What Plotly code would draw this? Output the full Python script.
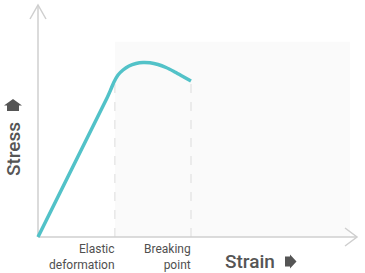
import plotly.graph_objects as go

# ---- data ----
strain = [0.0, 2.163, 2.288, 2.382, 2.508, 2.665, 2.853, 3.072, 3.292, 3.511, 3.762, 4.013, 4.263, 4.514, 4.796]
stress = [0.0, 5.991, 6.379, 6.681, 6.983, 7.198, 7.371, 7.478, 7.522, 7.509, 7.435, 7.306, 7.134, 6.940, 6.724]
elastic_x = 2.41
elastic_y = 6.78
breaking_x = 4.796
breaking_y = 6.724
region_right = 9.78
region_top = 8.42
marker_labels = ["Elastic<br>deformation", "Breaking<br>point"]
axis_titles = ["Strain", "Stress"]

W, H = 365, 273
X0, Y0 = 38, 237       # pixel of origin
SX, SY = 31.9, 23.2    # pixels per unit
xr = [-X0 / SX, (W - X0) / SX]
yr = [-(H - Y0) / SY, Y0 / SY]

def P(px, py):
    return (px - X0) / SX, (Y0 - py) / SY

def path(pts):
    s = ""
    for i, (px, py) in enumerate(pts):
        x, y = P(px, py)
        s += ("M" if i == 0 else "L") + f"{x:.4f},{y:.4f} "
    return s + "Z"

def openpath(pts):
    s = ""
    for i, (px, py) in enumerate(pts):
        x, y = P(px, py)
        s += ("M" if i == 0 else "L") + f"{x:.4f},{y:.4f} "
    return s

fig = go.Figure()
fig.add_trace(go.Scatter(x=strain, y=stress, mode="lines",
                         line=dict(color="#52c2c8", width=3.5, shape="spline", smoothing=0.6),
                         hoverinfo="skip"))

axc = "#cfcfcf"
top_y = P(0, 5)[1]
right_x = P(357, 0)[0]
shapes = [
    dict(type="rect", x0=elastic_x, x1=region_right, y0=0, y1=region_top,
         fillcolor="#fafafa", line=dict(width=0), layer="below"),
    dict(type="line", x0=elastic_x, x1=elastic_x, y0=0, y1=elastic_y,
         line=dict(color="#dcdcdc", width=1, dash="dash"), layer="below"),
    dict(type="line", x0=breaking_x, x1=breaking_x, y0=0, y1=breaking_y,
         line=dict(color="#dcdcdc", width=1, dash="dash"), layer="below"),
    dict(type="line", x0=0, x1=0, y0=0, y1=top_y, line=dict(color=axc, width=1.5), layer="below"),
    dict(type="line", x0=0, x1=right_x, y0=0, y1=0, line=dict(color=axc, width=1.5), layer="below"),
    dict(type="path", path=openpath([(30, 19), (38, 5), (46, 19)]), line=dict(color=axc, width=1.5)),
    dict(type="path", path=openpath([(345, 228), (357, 237), (345, 246)]), line=dict(color=axc, width=1.5)),
    # up arrow (house)
    dict(type="path", path=path([(7, 105.5), (4, 105.5), (13, 99), (22, 105.5), (19, 105.5), (19, 111), (7, 111)]),
         fillcolor="#555555", line=dict(width=0)),
    # right arrow
    dict(type="path", path=path([(285, 256.5), (290, 256.5), (290, 254.5), (296.5, 261.5), (290, 268.5), (290, 266.5), (285, 266.5)]),
         fillcolor="#555555", line=dict(width=0)),
]

font = "Roboto, sans-serif"
ann = [
    dict(x=elastic_x, y=P(0, 240)[1], text=marker_labels[0], xanchor="right", yanchor="top", xshift=2,
         showarrow=False, align="right", font=dict(family=font, size=12, color="#505050")),
    dict(x=breaking_x, y=P(0, 240)[1], text=marker_labels[1], xanchor="right", yanchor="top", xshift=2,
         showarrow=False, align="right", font=dict(family=font, size=12, color="#505050")),
    dict(x=P(223, 0)[0], y=P(0, 261)[1], text=axis_titles[0], xanchor="left", yanchor="middle",
         showarrow=False, font=dict(family=font, size=19, color="#555555", weight=500)),
    dict(x=P(13, 0)[0], y=P(0, 149)[1], text=axis_titles[1], textangle=-90, xanchor="center", yanchor="middle",
         showarrow=False, font=dict(family=font, size=19, color="#555555", weight=500)),
]

fig.update_layout(
    width=W, height=H, margin=dict(l=0, r=0, t=0, b=0),
    paper_bgcolor="white", plot_bgcolor="white", showlegend=False,
    xaxis=dict(range=xr, visible=False, fixedrange=True),
    yaxis=dict(range=yr, visible=False, fixedrange=True),
    shapes=shapes, annotations=ann,
)
fig.write_html("out.html", config={"displayModeBar": False})
